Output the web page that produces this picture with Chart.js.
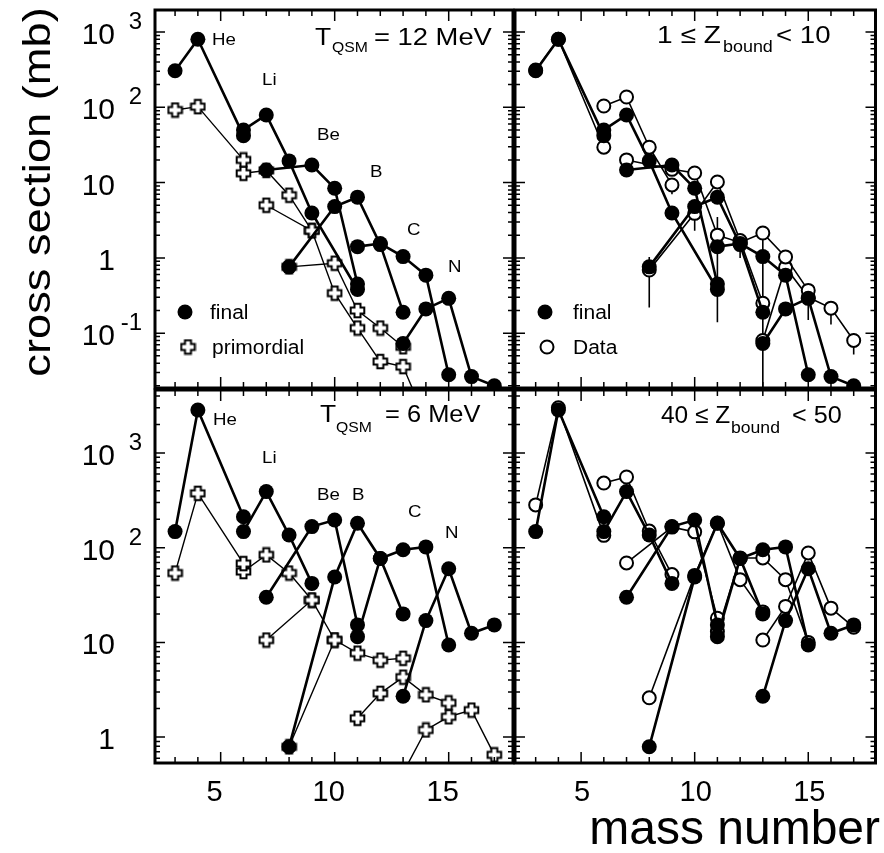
<!DOCTYPE html>
<html>
<head>
<meta charset="utf-8">
<script src="https://cdn.jsdelivr.net/npm/chart.js@4.4.1/dist/chart.umd.min.js"></script>
<style>
  html, body { margin: 0; padding: 0; background: #fff; }
  #wrap { position: relative; width: 884px; height: 853px; }
  #wrap canvas { position: absolute; left: 0; top: 0; }
</style>
</head>
<body>
<div id="wrap">
  <canvas id="tl" width="884" height="853"></canvas>
  <canvas id="tr" width="884" height="853"></canvas>
  <canvas id="bl" width="884" height="853"></canvas>
  <canvas id="br" width="884" height="853"></canvas>
</div>
<script>
// ---- T_QSM = 12 MeV, final (also shown in the 1 <= Zbound < 10 panel)
const f12HeA = [3, 4, 6],            f12He = [306, 800, 42];
const f12LiA = [6, 7, 8, 9, 11],     f12Li = [50, 79, 19.4, 3.95, 0.38];
const f12BeA = [7, 9, 10, 11],       f12Be = [14.7, 17.1, 8.4, 0.45];
const f12BA  = [8, 10, 11, 12, 13],  f12B  = [0.76, 4.8, 6.4, 1.5, 0.19];
const f12CA  = [11, 12, 13, 14, 15], f12C  = [1.41, 1.55, 1.04, 0.59, 0.028];
const f12NA  = [13, 14, 15, 16, 17], f12N  = [0.073, 0.21, 0.29, 0.0265, 0.02];

// ---- T_QSM = 12 MeV, primordial
const p12HeA = [3, 4, 6],                  p12He = [92, 102, 20];
const p12LiA = [6, 7, 8, 9],               p12Li = [13.3, 14.5, 6.8, 2.3];
const p12BeA = [7, 9, 10, 11, 12, 13, 14], p12Be = [5.0, 2.3, 0.34, 0.117, 0.042, 0.036, 0.007];
const p12BA  = [8, 10, 11, 12, 13],        p12B  = [0.76, 0.85, 0.2, 0.117, 0.066];

// ---- 1 <= Zbound < 10, data
const d10HeA = [3, 4, 6],            d10He = [312, 800, 29.5];
const d10LiA = [6, 7, 8, 9],         d10Li = [104, 137, 29.5, 9.3];
const d10BeA = [7, 9, 10, 11],       d10Be = [20, 15, 13.4, 2.0];
const d10BA  = [8, 10, 11, 12, 13],  d10B  = [0.69, 3.9, 10.2, 1.7, 0.25];
const d10CA  = [11, 12, 13, 14, 15], d10C  = [2.0, 1.6, 2.14, 1.03, 0.37];
const d10NA  = [13, 14, 15, 16, 17], d10N  = [0.08, 0.75, 0.3, 0.215, 0.08];
// error bars of the data
const errA  = [8, 9, 10, 11, 12, 13, 14, 15, 16, 17];
const errLo = [0.22, 7.0, 2.3, 0.14, 1.0, 0.01, 0.5, 0.15, 0.13, 0.052];
const errHi = [1.03, 10.5, 4.3, 3.5, 1.9, 2.5, 1.15, 0.4, 0.25, 0.1];

// ---- T_QSM = 6 MeV, final (also shown in the 40 <= Zbound < 50 panel)
const f6HeA = [3, 4, 6],            f6He = [148, 2840, 212];
const f6LiA = [6, 7, 8, 9],         f6Li = [148, 391, 136, 42];
const f6BeA = [7, 9, 10, 11],       f6Be = [30, 167, 196, 15.3];
const f6BA  = [8, 10, 11, 12, 13],  f6B  = [0.79, 49, 181, 77, 20];
const f6CA  = [11, 12, 13, 14, 15], f6C  = [11.5, 77, 95, 102, 9.4];
const f6NA  = [13, 14, 15, 16, 17], f6N  = [2.7, 17, 60, 12.5, 15.3];

// ---- T_QSM = 6 MeV, primordial
const p6HeA = [3, 4, 6],            p6He = [54, 375, 68];
const p6LiA = [6, 7, 8, 9],         p6Li = [56, 84, 54, 28];
const p6BeA = [7, 9, 10],           p6Be = [10.6, 28, 10.6];
const p6BA  = [8, 10, 11, 12, 13],  p6B  = [0.79, 10.6, 7.7, 6.5, 6.8];
const p6CA  = [11, 12, 13, 14, 15], p6C  = [1.58, 2.9, 4.3, 2.8, 2.3];
const p6NA  = [13, 14, 15, 16, 17], p6N  = [0.42, 1.19, 1.64, 1.93, 0.65];

// ---- 40 <= Zbound < 50, data
const d40HeA = [3, 4, 6],            d40He = [283, 3000, 135];
const d40LiA = [6, 7, 8, 9],         d40Li = [482, 558, 150, 52];
const d40BeA = [7, 9, 10, 11],       d40Be = [69, 165, 147, 18];
const d40BA  = [8, 10, 11, 12, 13],  d40B  = [2.6, 51, 182, 46, 21];
const d40CA  = [11, 12, 13, 14, 15], d40C  = [13, 78, 78, 46, 10];
const d40NA  = [13, 14, 15, 16, 17], d40N  = [10.6, 24, 88, 23, 14.5];

// tick labels
const xTicks = [5, 10, 15];
const yTicksTop = [1000, 100, 10, 1, 0.1];
const yTicksBottom = [1000, 100, 10, 1];

const FONT = '"Liberation Sans", Arial, Helvetica, sans-serif';

// hollow plus marker for the primordial yields
function makeCross() {
  const c = document.createElement('canvas');
  c.width = 17; c.height = 17;
  const g = c.getContext('2d');
  const m = 8.5, a = 3, L = 6.8;
  g.beginPath();
  g.moveTo(m - a, m - L); g.lineTo(m + a, m - L); g.lineTo(m + a, m - a);
  g.lineTo(m + L, m - a); g.lineTo(m + L, m + a); g.lineTo(m + a, m + a);
  g.lineTo(m + a, m + L); g.lineTo(m - a, m + L); g.lineTo(m - a, m + a);
  g.lineTo(m - L, m + a); g.lineTo(m - L, m - a); g.lineTo(m - a, m - a);
  g.closePath();
  g.fillStyle = '#fff'; g.fill();
  g.lineWidth = 2; g.strokeStyle = '#000'; g.stroke();
  return c;
}
const crossImg = makeCross();

function chain(A, v, kind) {
  const base = {
    data: A.map((a, i) => ({ x: a, y: v[i] })),
    borderColor: '#000', fill: false, tension: 0
  };
  if (kind === 'final') {
    return { ...base, borderWidth: 2.6, pointStyle: 'circle', pointRadius: 7.5,
             pointBackgroundColor: '#000', pointBorderWidth: 0, order: 0 };
  }
  if (kind === 'prim') {
    return { ...base, borderWidth: 1.4, pointStyle: crossImg, order: 1 };
  }
  return { ...base, borderWidth: 1.6, pointStyle: 'circle', pointRadius: 6.5,
           pointBackgroundColor: '#fff', pointBorderColor: '#000', pointBorderWidth: 2, order: 1 };
}

function txt(ctx, s, x, y, size, sx, align) {
  ctx.save();
  ctx.font = size + 'px ' + FONT;
  ctx.textAlign = align || 'left';
  ctx.textBaseline = 'alphabetic';
  ctx.translate(x, y);
  ctx.scale(sx || 1, 1);
  ctx.fillText(s, 0, 0);
  ctx.restore();
}

const decor = {
  id: 'decor',
  beforeDatasetsDraw(chart, args, o) {
    if (!o.err) return;
    const { ctx, chartArea: ca, scales: { x, y } } = chart;
    ctx.save();
    ctx.beginPath();
    ctx.rect(ca.left, ca.top, ca.right - ca.left, ca.bottom - ca.top);
    ctx.clip();
    ctx.strokeStyle = '#000';
    ctx.lineWidth = 1.6;
    ctx.beginPath();
    o.err.a.forEach((a, i) => {
      const px = x.getPixelForValue(a);
      ctx.moveTo(px, y.getPixelForValue(o.err.lo[i]));
      ctx.lineTo(px, y.getPixelForValue(o.err.hi[i]));
    });
    ctx.stroke();
    ctx.restore();
  },
  afterDraw(chart, args, o) {
    const { ctx, chartArea: ca, scales: { x, y } } = chart;
    ctx.save();
    ctx.strokeStyle = '#000';
    ctx.fillStyle = '#000';
    // inward ticks on all four sides
    ctx.lineWidth = 1.5;
    ctx.beginPath();
    for (let a = Math.ceil(x.min); a <= x.max; a++) {
      const px = x.getPixelForValue(a);
      const len = a % 5 === 0 ? 11 : 6;
      ctx.moveTo(px, ca.bottom); ctx.lineTo(px, ca.bottom - len);
      ctx.moveTo(px, ca.top); ctx.lineTo(px, ca.top + len);
    }
    for (let d = Math.floor(Math.log10(y.min)); d <= Math.ceil(Math.log10(y.max)); d++) {
      for (let k = 1; k < 10; k++) {
        const v = k * Math.pow(10, d);
        if (v < y.min || v > y.max) continue;
        const py = y.getPixelForValue(v);
        const len = k === 1 ? 10 : 5;
        ctx.moveTo(ca.left, py); ctx.lineTo(ca.left + len, py);
        ctx.moveTo(ca.right, py); ctx.lineTo(ca.right - len, py);
      }
    }
    ctx.stroke();
    ctx.lineWidth = 3;
    ctx.strokeRect(ca.left, ca.top, ca.right - ca.left, ca.bottom - ca.top);

    // y tick labels
    (o.yTicks || []).forEach(v => {
      const py = y.getPixelForValue(v) + 1;
      const e = Math.round(Math.log10(v));
      const base = e === 0 ? '1' : '10';
      txt(ctx, base, ca.left - 40, py + 11, 30, 1, 'right');
      if (e !== 0 && e !== 1) txt(ctx, String(e), ca.left - 13, py - 4, 24, 1, 'right');
    });
    // x tick labels
    (o.xTicks || []).forEach(a => {
      txt(ctx, String(a), x.getPixelForValue(a) + (o.xShift || 0), 801, 29, 1, 'center');
    });
    // annotations
    (o.texts || []).forEach(t => txt(ctx, t[0], t[1], t[2], t[3], t[4] || 1.1));
    // legend
    (o.legend || []).forEach(l => {
      if (l.kind === 'final') {
        ctx.beginPath(); ctx.arc(l.x, l.y, 7.5, 0, Math.PI * 2); ctx.fill();
      } else if (l.kind === 'prim') {
        ctx.drawImage(crossImg, l.x - 8.5, l.y - 8.5);
      } else {
        ctx.beginPath(); ctx.arc(l.x, l.y, 6.5, 0, Math.PI * 2);
        ctx.fillStyle = '#fff'; ctx.fill();
        ctx.lineWidth = 2; ctx.stroke(); ctx.fillStyle = '#000';
      }
      txt(ctx, l.label, l.tx, l.y + 7, 20, 1.05);
    });
    // axis titles
    if (o.yTitle) {
      ctx.save();
      ctx.font = '38px ' + FONT;
      ctx.textAlign = 'center';
      ctx.translate(50, 192);
      ctx.rotate(-Math.PI / 2);
      ctx.scale(1.19, 1);
      ctx.fillText(o.yTitle, 0, 0);
      ctx.restore();
    }
    if (o.xTitle) txt(ctx, o.xTitle, 880, 844, 48, 1, 'right');
    ctx.restore();
  }
};

function panel(id, datasets, xr, yr, pad, decorOpts) {
  new Chart(document.getElementById(id), {
    type: 'line',
    data: { datasets },
    options: {
      responsive: false,
      animation: false,
      events: [],
      layout: { padding: pad },
      plugins: { legend: { display: false }, tooltip: { enabled: false }, decor: decorOpts },
      scales: {
        x: { type: 'linear', min: xr[0], max: xr[1], display: false },
        y: { type: 'logarithmic', min: yr[0], max: yr[1], display: false }
      }
    },
    plugins: [decor]
  });
}

const xLeft = [2.12, 17.82], xRight = [2.09, 17.96];
const yTop = [0.0187, 1959], yBottom = [0.533, 4626];
const padTL = { left: 155, top: 10, right: 371, bottom: 465 };
const padTR = { left: 515, top: 10, right: 4, bottom: 465 };
const padBL = { left: 155, top: 390, right: 371, bottom: 90 };
const padBR = { left: 515, top: 390, right: 4, bottom: 90 };

function finals(sets) {
  return sets.map(s => chain(s[0], s[1], 'final'));
}

panel('tl', [
  ...finals([[f12HeA, f12He], [f12LiA, f12Li], [f12BeA, f12Be], [f12BA, f12B], [f12CA, f12C], [f12NA, f12N]]),
  chain(p12HeA, p12He, 'prim'), chain(p12LiA, p12Li, 'prim'),
  chain(p12BeA, p12Be, 'prim'), chain(p12BA, p12B, 'prim')
], xLeft, yTop, padTL, {
  yTicks: yTicksTop,
  yTitle: 'cross section (mb)',
  texts: [
    ['He', 212, 45, 17], ['Li', 262, 85, 17], ['Be', 317, 140, 17],
    ['B', 370, 177, 17], ['C', 407, 235, 17], ['N', 448, 272, 17],
    ['T', 315, 45, 24], ['QSM', 332, 52, 15, 1.05], ['= 12 MeV', 374, 45, 24, 1.14]
  ],
  legend: [
    { kind: 'final', x: 185, y: 312, tx: 210, label: 'final' },
    { kind: 'prim', x: 188, y: 347, tx: 212, label: 'primordial' }
  ]
});

panel('tr', [
  ...finals([[f12HeA, f12He], [f12LiA, f12Li], [f12BeA, f12Be], [f12BA, f12B], [f12CA, f12C], [f12NA, f12N]]),
  chain(d10HeA, d10He, 'data'), chain(d10LiA, d10Li, 'data'), chain(d10BeA, d10Be, 'data'),
  chain(d10BA, d10B, 'data'), chain(d10CA, d10C, 'data'), chain(d10NA, d10N, 'data')
], xRight, yTop, padTR, {
  err: { a: errA, lo: errLo, hi: errHi },
  texts: [
    ['1 \u2264 Z', 657, 43, 24, 1.17], ['bound', 723, 52, 16, 1.12], ['< 10', 776, 43, 24, 1.15]
  ],
  legend: [
    { kind: 'final', x: 545, y: 312, tx: 573, label: 'final' },
    { kind: 'data', x: 547, y: 347, tx: 573, label: 'Data' }
  ]
});

panel('bl', [
  ...finals([[f6HeA, f6He], [f6LiA, f6Li], [f6BeA, f6Be], [f6BA, f6B], [f6CA, f6C], [f6NA, f6N]]),
  chain(p6HeA, p6He, 'prim'), chain(p6LiA, p6Li, 'prim'), chain(p6BeA, p6Be, 'prim'),
  chain(p6BA, p6B, 'prim'), chain(p6CA, p6C, 'prim'), chain(p6NA, p6N, 'prim')
], xLeft, yBottom, padBL, {
  yTicks: yTicksBottom,
  xTicks: xTicks,
  xShift: -6,
  texts: [
    ['He', 213, 425, 17], ['Li', 262, 463, 17], ['Be', 317, 500, 17],
    ['B', 352, 500, 17], ['C', 408, 517, 17], ['N', 445, 538, 17],
    ['T', 320, 422, 24], ['QSM', 336, 432, 15, 1.05], ['= 6 MeV', 385, 422, 24, 1.06]
  ]
});

panel('br', [
  ...finals([[f6HeA, f6He], [f6LiA, f6Li], [f6BeA, f6Be], [f6BA, f6B], [f6CA, f6C], [f6NA, f6N]]),
  chain(d40HeA, d40He, 'data'), chain(d40LiA, d40Li, 'data'), chain(d40BeA, d40Be, 'data'),
  chain(d40BA, d40B, 'data'), chain(d40CA, d40C, 'data'), chain(d40NA, d40N, 'data')
], xRight, yBottom, padBR, {
  xTicks: xTicks,
  xShift: 1,
  xTitle: 'mass number',
  texts: [
    ['40 \u2264 Z', 661, 423, 24, 1.02], ['bound', 731, 433, 16, 1.1], ['< 50', 792, 423, 24, 1.05]
  ]
});
</script>
</body>
</html>
